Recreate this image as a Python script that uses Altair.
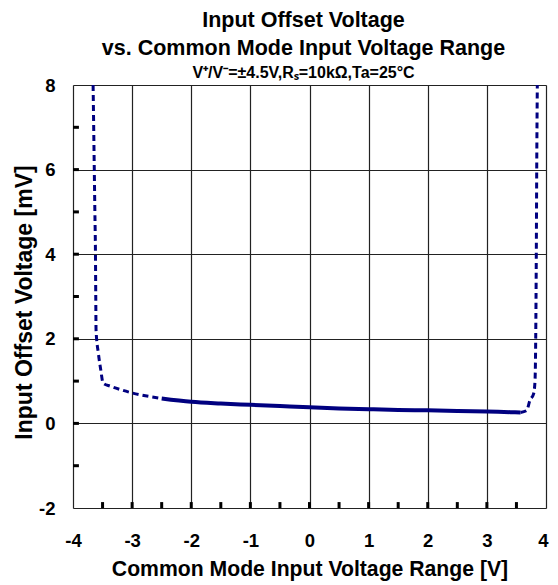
import altair as alt
import pandas as pd

# Common mode input voltage [V] and input offset voltage [mV]
vcm = [-3.66, -3.65, -3.64, -3.63, -3.62, -3.615, -3.61, -3.57, -3.53, -3.49, -3.37, -3.2, -3.0,
       -2.5, -2.0, -1.5, -1.0, -0.5, 0.0, 0.5, 1.0, 1.5, 2.0, 2.5, 3.0, 3.4, 3.57,
       3.67, 3.73, 3.79, 3.814, 3.826, 3.836, 3.843, 3.853]
vio = [8.0, 7.0, 6.0, 5.0, 4.0, 3.0, 2.2, 1.65, 1.26, 0.95, 0.88, 0.80, 0.72,
       0.59, 0.51, 0.47, 0.44, 0.41, 0.38, 0.355, 0.335, 0.318, 0.308, 0.295, 0.28, 0.265, 0.26,
       0.30, 0.55, 0.70, 1.0, 2.0, 4.0, 6.0, 8.0]

x_major = [-4, -3, -2, -1, 0, 1, 2, 3, 4]
y_major = [-2, 0, 2, 4, 6, 8]
x_minor = [-3.5, -3, -2.5, -2, -1.5, -1, -0.5, 0, 0.5, 1, 1.5, 2, 2.5, 3, 3.5]
y_minor = [-1, 0, 1, 2, 3, 4, 5, 6, 7]

FONT = "Liberation Sans"
NAVY = "#000080"

df = pd.DataFrame({"vcm": vcm, "vio": vio})
xt = pd.DataFrame({"vcm": x_minor})
yt = pd.DataFrame({"vio": y_minor})

xscale = alt.Scale(domain=[-4, 4], nice=False, zero=False)
yscale = alt.Scale(domain=[-2, 8], nice=False, zero=False)
XT = "Common Mode Input Voltage Range [V]"
YT = "Input Offset Voltage [mV]"
LBL = "'' + datum.value"

xaxis = alt.Axis(values=x_major, labelExpr=LBL, grid=True, gridColor="#222", gridWidth=1.2,
                 domain=False, ticks=False, tickSize=0, labelPadding=23, labelFlush=False,
                 labelOffset=alt.condition("datum.value == 4", alt.value(-3), alt.value(0)),
                 labelFont=FONT, labelFontSize=18.5, labelFontWeight="bold", labelColor="black",
                 title=XT, titleFont=FONT, titleFontSize=21.2, titleFontWeight="bold",
                 titleColor="black", titleBaseline="alphabetic", titleX=236.5, titleY=67.7,
                 titleAlign="center")
yaxis = alt.Axis(values=y_major, labelExpr=LBL, grid=True, gridColor="#222", gridWidth=1.2,
                 domain=False, ticks=False, tickSize=0, labelPadding=18, labelFlush=False,
                 labelFont=FONT, labelFontSize=18.5, labelFontWeight="bold", labelColor="black",
                 title=YT, titleFont=FONT, titleFontSize=23, titleFontWeight="bold",
                 titleColor="black", titleBaseline="alphabetic", titleX=-41.5, titleY=217,
                 titleAlign="center", titleAngle=270)

base = alt.Chart(df)

dash_left = base.transform_filter(alt.datum.vcm <= -2.5).mark_line(
    color=NAVY, strokeWidth=3, strokeDash=[6, 4], clip=True, interpolate="monotone"
).encode(x=alt.X("vcm:Q", scale=xscale, axis=xaxis, title=XT),
         y=alt.Y("vio:Q", scale=yscale, axis=yaxis, title=YT),
         order=alt.Order("vcm:Q"))

solid = base.transform_filter((alt.datum.vcm >= -2.5) & (alt.datum.vcm <= 3.57)).mark_line(
    color=NAVY, strokeWidth=4, clip=True, interpolate="monotone"
).encode(x=alt.X("vcm:Q", scale=xscale, title=XT),
         y=alt.Y("vio:Q", scale=yscale, title=YT),
         order=alt.Order("vcm:Q"))

dash_right = base.transform_filter(alt.datum.vcm >= 3.57).mark_line(
    color=NAVY, strokeWidth=3, strokeDash=[6, 4], clip=True, interpolate="monotone"
).encode(x=alt.X("vcm:Q", scale=xscale, title=XT),
         y=alt.Y("vio:Q", scale=yscale, title=YT),
         order=alt.Order("vcm:Q"))

xticks = alt.Chart(xt).mark_rule(color="black", strokeWidth=3).encode(
    x=alt.X("vcm:Q", scale=xscale, title=XT),
    y=alt.datum(-2), y2=alt.datum(-1.86))

yticks = alt.Chart(yt).mark_rule(color="black", strokeWidth=3).encode(
    y=alt.Y("vio:Q", scale=yscale, title=YT),
    x=alt.datum(-4), x2=alt.datum(-3.9))

chart = alt.layer(dash_left, solid, dash_right, xticks, yticks).properties(
    width=473, height=423,
    autosize=alt.AutoSizeParams(type="none"),
    padding={"left": 65, "top": 77, "right": 4, "bottom": 76},
    title=alt.TitleParams(
        text=["Input Offset Voltage", "vs. Common Mode Input Voltage Range"],
        subtitle="V⁺/V⁻=±4.5V,Rₛ=10kΩ,Ta=25°C",
        font=FONT, fontSize=21.5, fontWeight="bold", color="black", lineHeight=28,
        subtitleFont=FONT, subtitleFontSize=16, subtitleFontWeight="bold",
        subtitleColor="black", subtitlePadding=5,
        anchor="middle", dx=-6, offset=-4.5),
).configure_view(stroke="black", strokeWidth=4).configure(background="white")

chart.save("out.html", embed_options={"renderer": "svg", "actions": False})
